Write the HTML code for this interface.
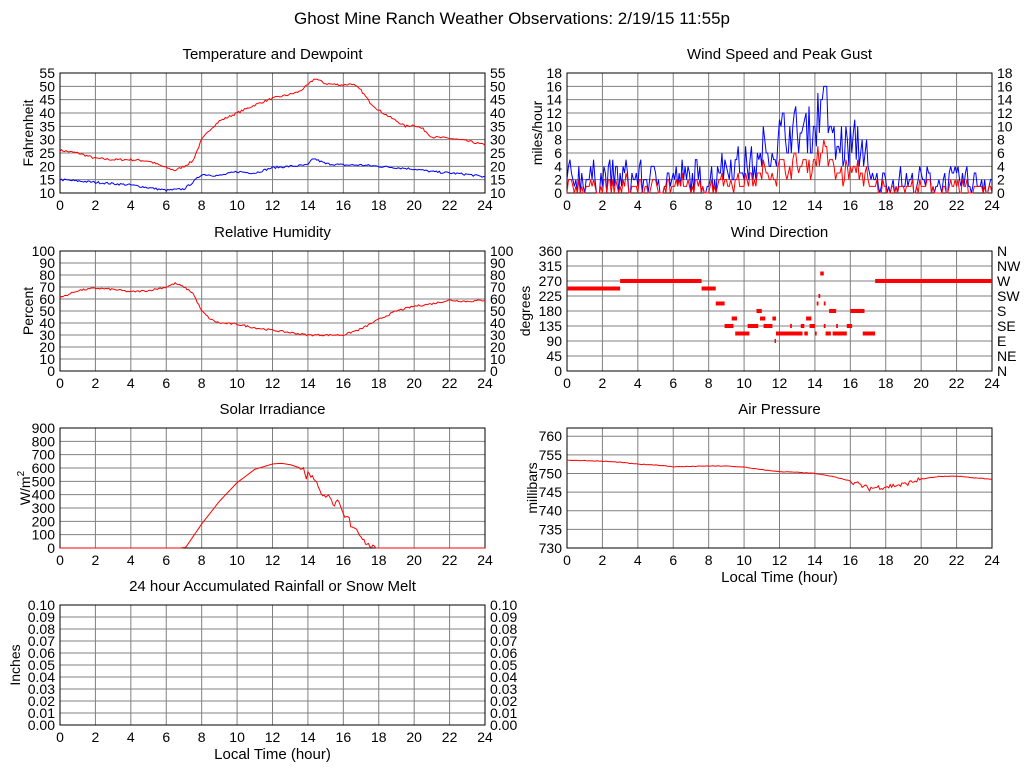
<!DOCTYPE html>
<html><head><meta charset="utf-8"><style>
html,body{margin:0;padding:0;background:#fff;}
svg{display:block;font-family:"Liberation Sans",sans-serif;}
</style></head><body>
<svg id="s" width="1024" height="768" xmlns="http://www.w3.org/2000/svg"></svg>
<script>
var S=document.getElementById('s'),out='';
function T(x,y,t,a,sz,extra){out+='<text x="'+x+'" y="'+y+'" font-size="'+(sz||14)+'" text-anchor="'+(a||'start')+'" '+(extra||'')+'>'+t+'</text>';}
var seed=7;function rnd(){seed=(seed*16807)%2147483647;return seed/2147483647;}
function interp(k,h){for(var i=0;i<k.length-1;i++){if(h>=k[i][0]&&h<=k[i+1][0]){var f=(h-k[i][0])/(k[i+1][0]-k[i][0]||1);return k[i][1]+f*(k[i+1][1]-k[i][1]);}}return k[k.length-1][1];}
function panel(o){
 var x0=o.x,y0=o.y,w=o.w||425,h=120,x1=x0+w,y1=y0+h;
 T((x0+x1)/2,y0-14,o.title,'middle',15);
 var g='';
 for(var i=1;i<12;i++){var gx=x0+w*i/12;g+='M'+gx+' '+y0+'V'+y1;}
 o.yt.forEach(function(v){var gy=o.Y(v);if(gy>y0+0.5&&gy<y1-0.5)g+='M'+x0+' '+gy+'H'+x1;});
 out+='<path d="'+g+'" stroke="#808080" stroke-width="1" fill="none"/>';
 out+='<rect x="'+x0+'" y="'+y0+'" width="'+w+'" height="120" fill="none" stroke="#000"/>';
 for(var i=0;i<=12;i++)T(x0+w*i/12,y1+17,i*2,'middle');
 o.yt.forEach(function(v,j){var gy=o.Y(v);T(x0-5,gy+5,o.fmt(v),'end');if(o.right)T(x1+5,gy+5,o.right[j]!==undefined?o.right[j]:o.fmt(v),'start');});
 var cy=(y0+y1)/2;T(o.lx,cy,o.label,'middle',14,'transform="rotate(-90 '+o.lx+' '+cy+')"');
 if(o.xl)T((x0+x1)/2,y1+34,'Local Time (hour)','middle',15);
 o.X=function(hh){return x0+w*hh/24;};
 return o;
}
function line(o,pts,col,step){var d='';pts.forEach(function(p,i){var X=o.X(p[0]),Y=o.Y(p[1]);if(i==0)d+='M'+X+' '+Y;else if(step)d+='H'+X+'V'+Y;else d+='L'+X+' '+Y;});out+='<path d="'+d+'" stroke="'+col+'" stroke-width="1" fill="none"/>';}
function border(o){}
function series(k,noise,n){var p=[];n=n||288;for(var i=0;i<=n;i++){var hh=24*i/n;p.push([hh,interp(k,hh)+(rnd()-0.5)*noise]);}return p;}

T(512,24,'Ghost Mine Ranch Weather Observations: 2/19/15 11:55p','middle',17);

var o=panel({x:60,y:73,title:'Temperature and Dewpoint',yt:[10,15,20,25,30,35,40,45,50,55],Y:function(v){return 193-(v-10)*120/45;},fmt:function(v){return v},right:[],lx:33,label:'Fahrenheit'});
line(o,series([[0,26],[1,25],[2,23],[3,22.5],[4,22.5],[5,22],[6,19.5],[6.5,18.5],[7,20],[7.5,22],[8,30],[8.5,34],[9,37],[10,40],[11,43],[12,45.5],[13,47],[13.5,48],[14,50.5],[14.4,53],[15,51],[16,50.5],[16.5,51],[17,48.5],[17.5,44],[18,41],[19,37],[19.5,35],[20,35.5],[20.5,34],[21,31],[22,30.5],[23,29.5],[24,28]],0.8),'#f00');
line(o,series([[0,15],[2,14],[3,13.5],[4,13],[5,12],[6,11],[7,11.5],[7.5,14],[8,17],[9,16.5],[10,18],[11,17.5],[12,19.5],[13,20],[14,20.5],[14.3,23],[15,21],[16,20.5],[17,20.5],[18,20],[19,19.5],[20,19],[21,18],[22,17.5],[23,17],[24,16]],0.8),'#00f');

o=panel({x:567,y:73,w:425,title:'Wind Speed and Peak Gust',yt:[0,2,4,6,8,10,12,14,16,18],Y:function(v){return 193-v*120/18;},fmt:function(v){return v},right:[],lx:542,label:'miles/hour'});
var g=[],sp=[];for(var i=0;i<=288;i++){var hh=i/12,m;
 if(hh<8.5)m=[0,5];else if(hh<11)m=[2,7];else if(hh<12)m=[4,10];else if(hh<14)m=[6,13];else if(hh<15)m=[7,17];else if(hh<17)m=[4,11];else m=[0,4];
 var v=Math.round(m[0]+Math.pow(rnd(),1.3)*(m[1]-m[0]));if(hh>14.3&&hh<14.6)v=Math.max(v,14+Math.round(rnd()*3));g.push([hh,v]);
 var s=Math.round(v*0.45+rnd()*1.2-0.6);if(s<0)s=0;sp.push([hh,s]);}
line(o,g,'#00f');line(o,sp,'#f00');

o=panel({x:60,y:251,title:'Relative Humidity',yt:[0,10,20,30,40,50,60,70,80,90,100],Y:function(v){return 371-v*1.2;},fmt:function(v){return v},right:[],lx:33,label:'Percent'});
line(o,series([[0,61],[1,67],[2,69],[3,68],[4,66],[5,67],[6,70],[6.5,73],[7,70],[7.5,65],[8,50],[8.5,43],[9,40],[10,39],[11,36],[12,34],[13,32],[14,30],[15,30],[16,30],[17,35],[18,43],[19,50],[20,54],[21,56],[22,59],[23,58],[24,59]],1.5),'#f00');

o=panel({x:567,y:251,title:'Wind Direction',yt:[0,45,90,135,180,225,270,315,360],Y:function(v){return 371-v*120/360;},fmt:function(v){return v},right:['N','NE','E','SE','S','SW','W','NW','N'],lx:530,label:'degrees'});
[[0,3,247.5],[3,7.6,270],[7.6,8.4,247.5],[8.4,8.9,202.5],[8.9,9.4,135],[9.3,9.6,157.5],[9.5,10.3,112.5],[10.2,10.8,135],[10.7,11,180],[10.9,11.2,157.5],[11.1,11.6,135],[11.6,11.8,157.5],[11.8,13.3,112.5],[11.72,11.8,90],[12.6,12.7,135],[13.2,13.4,135],[13.4,13.6,112.5],[13.5,13.8,157.5],[13.7,14,135],[14,14.1,112.5],[14.1,14.2,202.5],[14.2,14.3,225],[14.3,14.5,292.5],[14.5,14.6,202.5],[14.5,14.6,135],[14.6,14.9,112.5],[14.8,15.2,180],[15,15.8,112.5],[15.2,15.3,135],[15.8,16.1,135],[16,16.8,180],[16.7,17.4,112.5],[17.4,24,270]].forEach(function(s){
 out+='<rect x="'+o.X(s[0])+'" y="'+(o.Y(s[2])-2)+'" width="'+(o.X(s[1])-o.X(s[0]))+'" height="4" fill="#f00"/>';});

o=panel({x:60,y:428,title:'Solar Irradiance',yt:[0,100,200,300,400,500,600,700,800,900],Y:function(v){return 548-v*120/900;},fmt:function(v){return v},lx:30,label:'W/m<tspan dy="-6" font-size="10">2</tspan>'});
var sk=[[0,0],[6.8,0],[7.1,5],[8,180],[9,350],[10,490],[11,590],[12,630],[12.5,635],[13,625],[13.8,590],[13.9,510],[14,565],[14.5,500],[14.8,380],[15.2,410],[15.4,315],[15.7,350],[16.1,220],[16.3,240],[16.4,170],[16.7,150],[17,90],[17.3,30],[17.8,0],[24,0]];
var sp2=[];for(var i=0;i<=288;i++){var hh=i/12,v=interp(sk,hh);if(v>0&&hh>13.5)v+=(rnd()-0.5)*30;sp2.push([hh,Math.max(0,v)]);}
line(o,sp2,'#f00');

o=panel({x:567,y:428,w:425,title:'Air Pressure',yt:[730,735,740,745,750,755,760],Y:function(v){return 548-(v-730)*120/32.2;},fmt:function(v){return v},lx:537,label:'millibars',xl:1});
var pp=series([[0,753.6],[2,753.3],[3,753],[4,752.5],[5,752.3],[6,751.8],[8,752],[9,752],[10,751.7],[11,751],[12,750.5],[13,750.3],[14,750],[15,749.2],[16,748],[17,746],[18,746.5],[19,747],[20,748.5],[21,749.2],[22,749.3],[23,748.8],[24,748.5]],0.15);
pp.forEach(function(p){if(p[0]>16&&p[0]<20)p[1]+=(rnd()-0.5)*1.4;});
line(o,pp,'#f00');

o=panel({x:60,y:605,title:'24 hour Accumulated Rainfall or Snow Melt',yt:[0,.01,.02,.03,.04,.05,.06,.07,.08,.09,.1],Y:function(v){return 725-v*1200;},fmt:function(v){return v.toFixed(2)},right:[],lx:20,label:'Inches',xl:1});

S.innerHTML=out;
</script>
</body></html>
